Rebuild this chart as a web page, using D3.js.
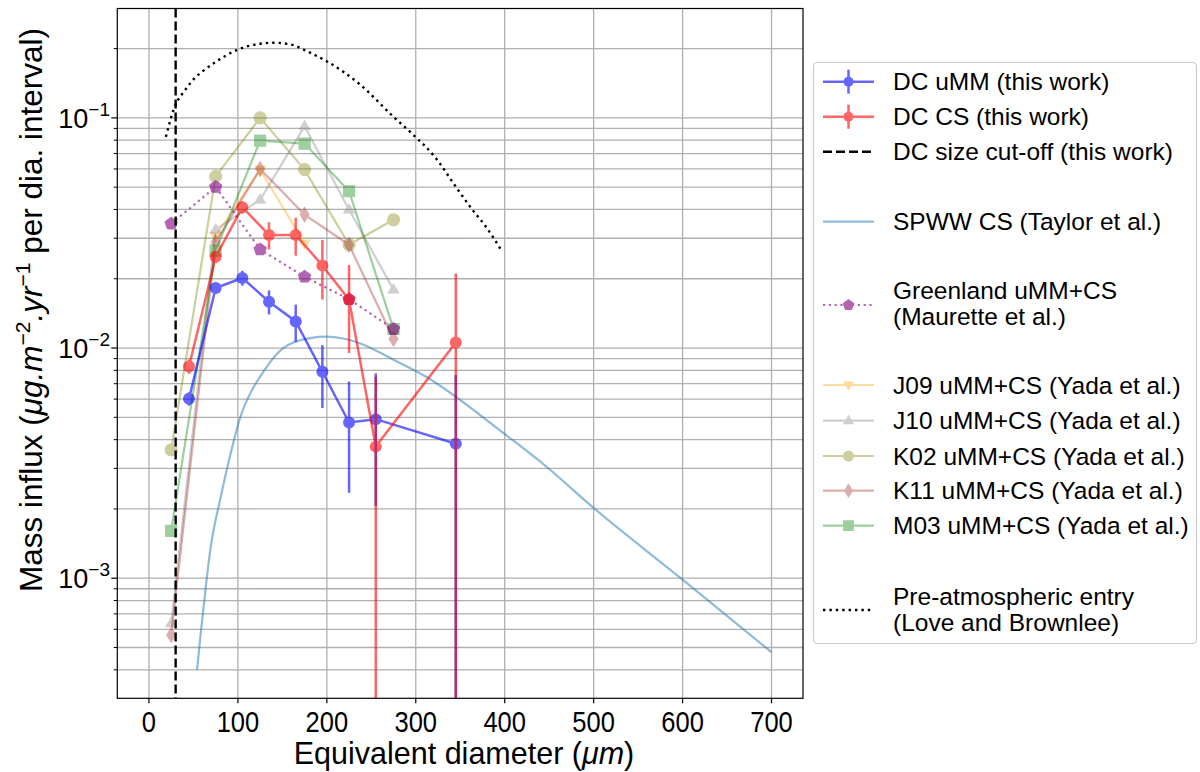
<!DOCTYPE html>
<html><head><meta charset="utf-8">
<script src="https://cdn.jsdelivr.net/npm/d3@7"></script>
<style>body{margin:0;background:#fff}text{font-family:"Liberation Sans",Arial,sans-serif;fill:#000}</style>
</head><body><svg id="c" width="1200" height="772"></svg>
<script>
// ---- data ----
const dcX = [45,75,105,135,165,195,225,255,345];
const ummVals = [0.00602,0.01824,0.02015,0.0159,0.01305,0.00789,0.00475,0.00491,0.00384];
const ummErr  = [0.0004,0.0010,0.0015,0.0019,0.0024,0.0024,0.0024,0.00285,0.0038];
const csVals  = [0.00832,0.0249,0.0409,0.0310,0.0310,0.02285,0.01622,0.00373,0.01057];
const csErr   = [0.0006,0.0015,0.0025,0.0042,0.0058,0.0066,0.0067,0.0038,0.0105];
const cutoff = 30;
const spwwX = [54,59,65,69,80,91,103,114,125,151,181,200,237,275,314,372,394,447,499,599,700];
const spwwY = [0.000399,0.000616,0.001,0.00133,0.00219,0.00338,0.00505,0.00637,0.00752,0.0100,0.01105,0.0112,0.0105,0.00889,0.00741,0.00513,0.00441,0.00305,0.002035,0.000993,0.000477];
const yadaX = [25,75,125,175,225,275];
const greenland = [0.0347,0.0501,0.0268,0.0204,0.0163,0.0121];
const j09 = [null,0.0306,0.0596,0.0285,null,null];
const j10 = [0.000637,0.0327,0.0441,0.0919,0.0399,0.01793];
const k02 = [0.00361,0.0557,0.1,0.0596,0.0281,0.0361];
const k11 = [0.000567,0.0288,0.060,0.038,0.0281,0.01094];
const m03 = [0.001606,0.0265,0.0797,0.0773,0.048,0.0121];
const preX = [19,29,40,50,60,76,100,125,140,158,181,200,237,275,299,321,346,363,379,397];
const preY = [0.0827,0.112,0.131,0.147,0.159,0.176,0.198,0.210,0.212,0.209,0.192,0.176,0.140,0.101,0.0832,0.068,0.0496,0.0402,0.0336,0.0263];
const xTicks = [0,100,200,300,400,500,600,700];
const yTicks = [1e-3,1e-2,1e-1];
const yTickExp = ["\u22123","\u22122","\u22121"];
const legendLabels = ["DC uMM (this work)","DC CS (this work)","DC size cut-off (this work)","SPWW CS (Taylor et al.)",
  ["Greenland uMM+CS","(Maurette et al.)"],"J09 uMM+CS (Yada et al.)","J10 uMM+CS (Yada et al.)","K02 uMM+CS (Yada et al.)",
  "K11 uMM+CS (Yada et al.)","M03 uMM+CS (Yada et al.)",["Pre-atmospheric entry","(Love and Brownlee)"]];

// ---- layout ----
const L=117.3,R=803,T=8.5,B=698.3;
const x = d3.scaleLinear().domain([-35.6,735.4]).range([L,R]);
const y = d3.scaleLog().domain([Math.pow(10,-3.5217),Math.pow(10,-0.5248)]).range([B,T]);
const svg = d3.select("#c");
svg.append("defs").append("clipPath").attr("id","clip").append("rect").attr("x",L).attr("y",T).attr("width",R-L).attr("height",B-T);

// grid
const minor=[];
for(let e=-4;e<=0;e++) for(let k=1;k<10;k++){const v=k*Math.pow(10,e); if(v>=y.domain()[0]&&v<=y.domain()[1]) minor.push(v);}
const grid=svg.append("g").attr("stroke","#b0b0b0").attr("stroke-width",1.3);
grid.selectAll(".hg").data(minor).join("line").attr("x1",L).attr("x2",R).attr("y1",d=>y(d)).attr("y2",d=>y(d));
grid.selectAll(".vg").data(xTicks).join("line").attr("y1",T).attr("y2",B).attr("x1",d=>x(d)).attr("x2",d=>x(d));

const plot = svg.append("g").attr("clip-path","url(#clip)");

// symbols
function pentagon(r){const p=[];for(let i=0;i<5;i++){const a=-Math.PI/2+i*2*Math.PI/5;p.push([r*Math.cos(a),r*Math.sin(a)]);}return "M"+p.map(q=>q.join(",")).join("L")+"Z";}
function tri(r,down){const s=down?-1:1;return `M0,${-r*s}L${r*0.95},${r*0.6*s}L${-r*0.95},${r*0.6*s}Z`;}
function symPath(kind,r){
  switch(kind){
    case "circle": return d3.symbol(d3.symbolCircle,Math.PI*r*r)();
    case "square": return `M${-r},${-r}H${r}V${r}H${-r}Z`;
    case "tdiamond": return `M0,${-r*1.3}L${r*0.8},0L0,${r*1.3}L${-r*0.8},0Z`;
    case "up": return tri(r,false);
    case "down": return tri(r,true);
    case "pent": return pentagon(r);
  }
}

// SPWW
const line = d3.line().x(d=>x(d[0])).y(d=>y(d[1]));
const smooth = d3.line().x(d=>x(d[0])).y(d=>y(d[1])).curve(d3.curveMonotoneX);
plot.append("path").datum(d3.zip(spwwX,spwwY)).attr("d",smooth).attr("fill","none").attr("stroke","#1f77b4").attr("stroke-opacity",0.5).attr("stroke-width",2.2);

// Yada series
const yada=[{v:j09,c:"orange",m:"down"},{v:j10,c:"gray",m:"up"},{v:k02,c:"olive",m:"circle"},{v:k11,c:"brown",m:"tdiamond"},{v:m03,c:"green",m:"square"}];
yada.forEach(s=>{
  const pts=d3.zip(yadaX,s.v).filter(d=>d[1]!=null);
  const g=plot.append("g").attr("opacity",0.38);
  g.append("path").datum(pts).attr("d",line).attr("fill","none").attr("stroke",s.c).attr("stroke-width",2.2);
  g.selectAll("path.m").data(pts).join("path").attr("class","m").attr("d",symPath(s.m,s.m==="circle"?6:5.5))
   .attr("transform",d=>`translate(${x(d[0])},${y(d[1])})`).attr("fill",s.c).attr("stroke",s.c).attr("stroke-width",1.2);
});

// Greenland
{
  const pts=d3.zip(yadaX,greenland);
  const g=plot.append("g").attr("opacity",0.6);
  g.append("path").datum(pts).attr("d",line).attr("fill","none").attr("stroke","purple").attr("stroke-width",2.2).attr("stroke-dasharray","2.2,3.6");
  g.selectAll("path.m").data(pts).join("path").attr("class","m").attr("d",symPath("pent",6.5))
   .attr("transform",d=>`translate(${x(d[0])},${y(d[1])})`).attr("fill","purple").attr("stroke","purple").attr("stroke-width",1);
}

// Pre-atmospheric
plot.append("path").datum(d3.zip(preX,preY)).attr("d",smooth).attr("fill","none").attr("stroke","#000").attr("stroke-width",2.4).attr("stroke-dasharray","2.4,4");

// cutoff
plot.append("line").attr("x1",x(cutoff)).attr("x2",x(cutoff)).attr("y1",T).attr("y2",B).attr("stroke","#000").attr("stroke-width",2.4).attr("stroke-dasharray","9,4");

// DC series
function dc(vals,errs,col){
  const pts=dcX.map((d,i)=>[d,vals[i],errs[i]]);
  const g=plot.append("g").attr("opacity",0.6);
  const yy=v=>v>0?y(v):B+50;
  g.selectAll("line.e").data(pts).join("line").attr("x1",d=>x(d[0])).attr("x2",d=>x(d[0]))
   .attr("y1",d=>yy(d[1]+d[2])).attr("y2",d=>yy(d[1]-d[2])).attr("stroke",col).attr("stroke-width",2.5);
  g.append("path").datum(pts).attr("d",line).attr("fill","none").attr("stroke",col).attr("stroke-width",2.5);
  g.selectAll("circle").data(pts).join("circle").attr("cx",d=>x(d[0])).attr("cy",d=>y(d[1])).attr("r",6).attr("fill",col);
}
dc(ummVals,ummErr,"blue");
dc(csVals,csErr,"red");

// spines
svg.append("rect").attr("x",L).attr("y",T).attr("width",R-L).attr("height",B-T).attr("fill","none").attr("stroke","#000").attr("stroke-width",1.2);

// x ticks
const xa=svg.append("g");
xa.selectAll("line").data(xTicks).join("line").attr("x1",d=>x(d)).attr("x2",d=>x(d)).attr("y1",B).attr("y2",B+5).attr("stroke","#000").attr("stroke-width",1.2);
xa.selectAll("text").data(xTicks).join("text").attr("transform",d=>`translate(${x(d)},732) scale(0.88,1)`).attr("text-anchor","middle").attr("font-size",29).text(d=>d);
svg.append("text").attr("x",464).attr("y",764).attr("text-anchor","middle").attr("font-size",30.5)
  .html('Equivalent diameter (<tspan font-style="italic">\u03bcm</tspan>)');

// y ticks
const ya=svg.append("g");
ya.selectAll("line.mj").data(yTicks).join("line").attr("x1",L-6).attr("x2",L).attr("y1",d=>y(d)).attr("y2",d=>y(d)).attr("stroke","#000").attr("stroke-width",1.2);
ya.selectAll("line.mn").data(minor.filter(v=>!yTicks.includes(v))).join("line").attr("class","mn").attr("x1",L-3.5).attr("x2",L).attr("y1",d=>y(d)).attr("y2",d=>y(d)).attr("stroke","#000").attr("stroke-width",1);
yTicks.forEach((t,i)=>{
  const tx=ya.append("text").attr("x",110).attr("y",y(t)+10).attr("text-anchor","end").attr("font-size",27).text("10");
  tx.append("tspan").attr("dy",-12).attr("font-size",19).text(yTickExp[i]);
});
svg.append("text").attr("transform","translate(42,310) rotate(-90)").attr("text-anchor","middle").attr("font-size",31.5)
  .html('Mass influx (<tspan font-style="italic">\u03bcg.m</tspan><tspan dy="-12" font-size="21">\u22122</tspan><tspan dy="12" font-style="italic">.yr</tspan><tspan dy="-12" font-size="21">\u22121</tspan><tspan dy="12"> per dia. interval)</tspan>');

// legend
const lg=svg.append("g");
lg.append("rect").attr("x",813.5).attr("y",62.5).attr("width",383).attr("height",581).attr("rx",4).attr("fill","#fff").attr("stroke","#cccccc").attr("stroke-width",1.2);
const rowsY=[81.7,116.7,151.7,221.7,[290,316.7],385,420.7,456,490.7,525.7,[596,622.7]];
const hx1=823,hx2=874,hm=848.5,tx=893;
rowsY.forEach((ry,i)=>{
  const lab=legendLabels[i];
  if(Array.isArray(ry)){ ry.forEach((yy,j)=>lg.append("text").attr("x",tx).attr("y",yy+8.5).attr("font-size",24.5).text(lab[j])); }
  else lg.append("text").attr("x",tx).attr("y",ry+8.5).attr("font-size",24.5).text(lab);
});
function hline(yy,col,op,w,dash){lg.append("line").attr("x1",hx1).attr("x2",hx2).attr("y1",yy).attr("y2",yy).attr("stroke",col).attr("stroke-opacity",op).attr("stroke-width",w).attr("stroke-dasharray",dash||null);}
[["blue",81.7],["red",116.7]].forEach(([c,yy])=>{
  const g=lg.append("g").attr("opacity",0.6);
  g.append("line").attr("x1",hx1).attr("x2",hx2).attr("y1",yy).attr("y2",yy).attr("stroke",c).attr("stroke-width",2.5);
  g.append("line").attr("x1",hm).attr("x2",hm).attr("y1",yy-12).attr("y2",yy+12).attr("stroke",c).attr("stroke-width",2.5);
  g.append("circle").attr("cx",hm).attr("cy",yy).attr("r",5).attr("fill",c);
});
hline(151.7,"#000",1,2.4,"9,4");
hline(221.7,"#1f77b4",0.5,2.2);
{const g=lg.append("g").attr("opacity",0.6);
 g.append("line").attr("x1",hx1).attr("x2",hx2).attr("y1",305).attr("y2",305).attr("stroke","purple").attr("stroke-width",2.2).attr("stroke-dasharray","2.2,3.6");
 g.append("path").attr("d",symPath("pent",5.5)).attr("transform",`translate(${hm},305)`).attr("fill","purple").attr("stroke","purple");}
yada.forEach((s,i)=>{
  const yy=rowsY[5+i];
  const g=lg.append("g").attr("opacity",0.38);
  g.append("line").attr("x1",hx1).attr("x2",hx2).attr("y1",yy).attr("y2",yy).attr("stroke",s.c).attr("stroke-width",2.2);
  g.append("path").attr("d",symPath(s.m,s.m==="circle"?5:4.8)).attr("transform",`translate(${hm},${yy})`).attr("fill",s.c).attr("stroke",s.c).attr("stroke-width",1.2);
});
hline(610,"#000",1,2.4,"2.4,4");
</script></body></html>
